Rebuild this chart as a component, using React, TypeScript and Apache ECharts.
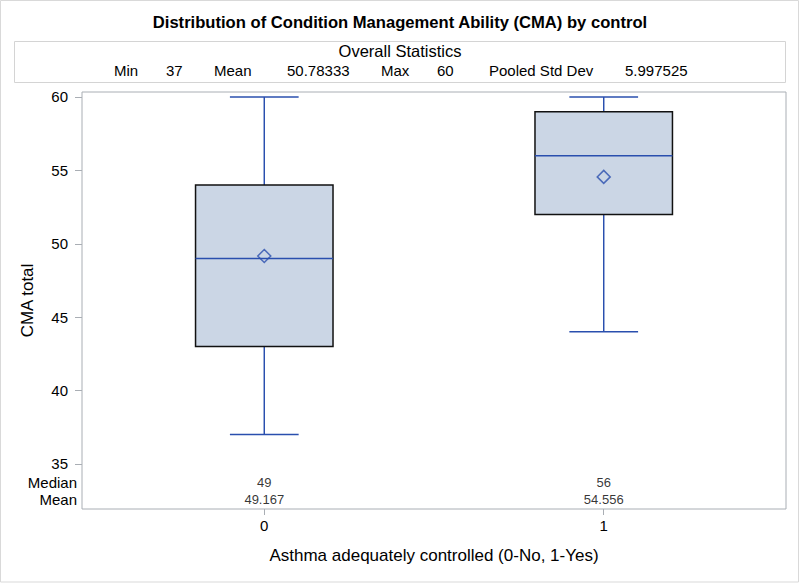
import React, { useEffect, useRef } from "react";
import * as echarts from "echarts";

const titleText = "Distribution of Condition Management Ability (CMA) by control";
const statsTitle = "Overall Statistics";
const statLabels = ["Min", "Mean", "Max", "Pooled Std Dev"];
const statValues = ["37", "50.78333", "60", "5.997525"];

const groups = [0, 1];
const groupLabels = ["0", "1"];
const mins = [37, 44];
const q1s = [43, 52];
const medians = [49, 56];
const q3s = [54, 59];
const maxs = [60, 60];
const means = [49.167, 54.556];
const medianLabels = ["49", "56"];
const meanLabels = ["49.167", "54.556"];
const rowLabels = ["Mean", "Median"];
const yTicks = [35, 40, 45, 50, 55, 60];

const BLUE = "#2a4fae";
const BOX_FILL = "#cbd6e5";
const FRAME = "#a9aeb4";
const FONT = "Liberation Sans, Arial, sans-serif";

export default function App() {
  const ref = useRef<HTMLDivElement>(null);
  useEffect(() => {
    if (!ref.current) return;
    const chart = echarts.init(ref.current, null, { renderer: "svg" });
    const xMin = -0.537;
    const xMax = 1.537;
    const statXs = [[114, 166], [214, 287], [381, 437], [489, 625]];
    const statTexts: any[] = [];
    statLabels.forEach((l, i) => {
      statTexts.push({
        type: "text", left: statXs[i][0], top: 63,
        style: { text: l, fontSize: 15, fill: "#000", fontFamily: FONT },
      });
      statTexts.push({
        type: "text", left: statXs[i][1], top: 63,
        style: { text: statValues[i], fontSize: 15, fill: "#000", fontFamily: FONT },
      });
    });
    const option: any = {
      animation: false,
      backgroundColor: "#fff",
      textStyle: { fontFamily: FONT },
      title: {
        text: titleText,
        left: "center",
        top: 9,
        textStyle: { fontSize: 16.6, fontWeight: "bold", color: "#000", fontFamily: FONT },
      },
      graphic: [
        { type: "rect", shape: { x: 0.5, y: 0.5, width: 798, height: 581.5 }, style: { fill: "none", stroke: "#d9d9d9", lineWidth: 1 } },
        { type: "rect", shape: { x: 14.5, y: 41.5, width: 771, height: 41 }, style: { fill: "none", stroke: "#d4d4d4", lineWidth: 1 } },
        {
          type: "text", left: "center", top: 42,
          style: { text: statsTitle, fontSize: 16.5, fill: "#000", fontFamily: FONT },
        },
        ...statTexts,
      ],
      grid: [
        { left: 82, top: 92, width: 704, height: 417, show: true, borderColor: FRAME, borderWidth: 1, backgroundColor: "transparent" },
        { left: 82, top: 474, width: 704, height: 34, show: false },
      ],
      xAxis: [
        {
          type: "value", gridIndex: 0, min: xMin, max: xMax,
          splitLine: { show: false },
          axisLine: { show: false, onZero: false },
          axisTick: { show: true, length: 6, lineStyle: { color: FRAME }, customValues: groups },
          axisLabel: {
            show: true, fontSize: 15, color: "#000", margin: 9, customValues: groups,
            formatter: (v: number) => groupLabels[groups.indexOf(Math.round(v))] ?? "",
          },
          name: "Asthma adequately controlled (0-No, 1-Yes)",
          nameLocation: "middle", nameGap: 38,
          nameTextStyle: { fontSize: 17, color: "#000", fontFamily: FONT },
        },
        { type: "value", gridIndex: 1, min: xMin, max: xMax, show: false },
      ],
      yAxis: [
        {
          type: "value", gridIndex: 0, min: 31.93, max: 60.34,
          splitLine: { show: false },
          axisLine: { show: false, onZero: false },
          axisTick: { show: true, length: 7, lineStyle: { color: FRAME }, customValues: yTicks },
          axisLabel: { fontSize: 15, color: "#000", margin: 14, customValues: yTicks },
          name: "CMA total", nameLocation: "middle", nameGap: 46,
          nameTextStyle: { fontSize: 17, color: "#000", fontFamily: FONT },
        },
        {
          type: "category", gridIndex: 1, data: rowLabels,
          axisLine: { show: false, onZero: false }, axisTick: { show: false },
          axisLabel: { fontSize: 15, color: "#000", margin: 5, interval: 0 },
        },
      ],
      series: [
        {
          type: "custom",
          xAxisIndex: 0, yAxisIndex: 0,
          silent: true,
          encode: { x: 0, y: [1, 2, 3, 4, 5] },
          data: groups.map((g, i) => [g, mins[i], q1s[i], medians[i], q3s[i], maxs[i]]),
          renderItem: (params: any, api: any) => {
            const x = api.value(0);
            const pMin = api.coord([x, api.value(1)]);
            const pQ1 = api.coord([x, api.value(2)]);
            const pMed = api.coord([x, api.value(3)]);
            const pQ3 = api.coord([x, api.value(4)]);
            const pMax = api.coord([x, api.value(5)]);
            const bw = api.size([0.405, 0])[0];
            const half = bw / 2;
            const cap = bw / 4;
            const ls = { stroke: BLUE, lineWidth: 1.5 };
            return {
              type: "group",
              children: [
                { type: "line", shape: { x1: pMin[0], y1: pMin[1], x2: pQ1[0], y2: pQ1[1] }, style: ls },
                { type: "line", shape: { x1: pQ3[0], y1: pQ3[1], x2: pMax[0], y2: pMax[1] }, style: ls },
                { type: "line", shape: { x1: pMin[0] - cap, y1: pMin[1], x2: pMin[0] + cap, y2: pMin[1] }, style: ls },
                { type: "line", shape: { x1: pMax[0] - cap, y1: pMax[1], x2: pMax[0] + cap, y2: pMax[1] }, style: ls },
                {
                  type: "rect",
                  shape: { x: pQ3[0] - half, y: pQ3[1], width: bw, height: pQ1[1] - pQ3[1] },
                  style: { fill: BOX_FILL, stroke: "#111", lineWidth: 1.5 },
                },
                { type: "line", shape: { x1: pMed[0] - half, y1: pMed[1], x2: pMed[0] + half, y2: pMed[1] }, style: ls },
              ],
            };
          },
          z: 2,
        },
        {
          type: "scatter",
          xAxisIndex: 0, yAxisIndex: 0,
          silent: true,
          symbol: "diamond",
          symbolSize: 13,
          itemStyle: { color: "rgba(0,0,0,0)", borderColor: BLUE, borderWidth: 1.5 },
          data: groups.map((g, i) => [g, means[i]]),
          z: 3,
        },
        {
          type: "scatter",
          xAxisIndex: 1, yAxisIndex: 1,
          silent: true,
          symbolSize: 1,
          itemStyle: { color: "rgba(0,0,0,0)" },
          label: {
            show: true, position: "inside", fontSize: 13, color: "#000",
            formatter: (p: any) => p.value[2],
          },
          data: [
            ...groups.map((g, i) => [g, 1, medianLabels[i]]),
            ...groups.map((g, i) => [g, 0, meanLabels[i]]),
          ],
        },
      ],
    };
    chart.setOption(option);
    return () => chart.dispose();
  }, []);
  return (
    <div
      ref={ref}
      style={{ position: "fixed", left: 0, top: 0, width: 800, height: 585 }}
    />
  );
}
